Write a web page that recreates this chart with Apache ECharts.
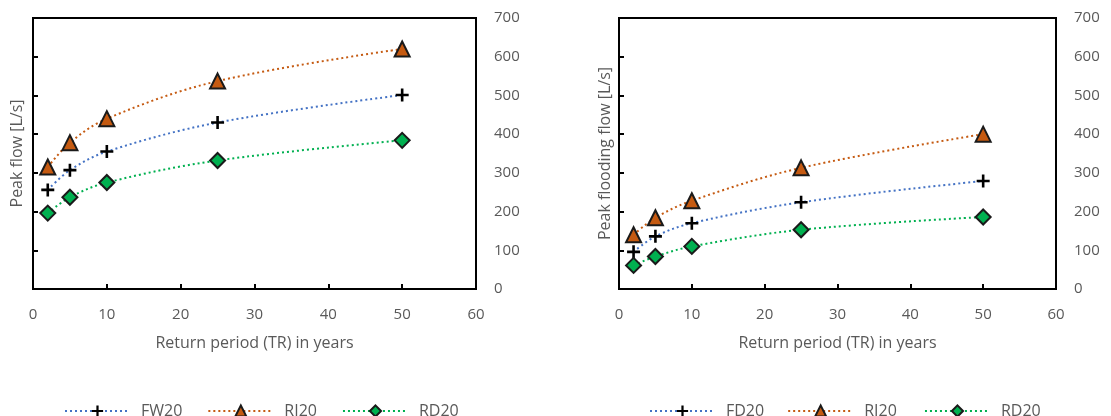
<!DOCTYPE html>
<html>
<head>
<meta charset="utf-8">
<script src="https://cdn.jsdelivr.net/npm/echarts@6/dist/echarts.min.js"></script>
<style>
html,body{margin:0;padding:0;background:#fff;}
#c{width:1111px;height:416px;}
</style>
</head>
<body>
<div id="c"></div>
<script>
const returnPeriods = [2, 5, 10, 25, 50];
const leftFW20 = [256, 307, 355, 430, 501];
const leftRI20 = [315, 378, 440, 537, 620];
const leftRD20 = [196, 237, 275, 332, 384];
const rightFD20 = [96, 136, 170, 224, 279];
const rightRI20 = [140, 184, 228, 313, 400];
const rightRD20 = [61, 84, 110, 153, 186];
const xTickLabels = [0, 10, 20, 30, 40, 50, 60];
const yTickLabels = [0, 100, 200, 300, 400, 500, 600, 700];
const xTitle = 'Return period (TR) in years';
const leftYTitle = 'Peak flow [L/s]';
const rightYTitle = 'Peak flooding flow [L/s]';

const FONT = 'Open Sans';
const TXT = '#595959';
const BLUE = '#4472C4', ORANGE = '#C55A11', GREEN = '#00B050';
const PLUS = 'path://M4,0h2v4h4v2h-4v4h-2v-4h-4v-2h4z';

const xMin = xTickLabels[0], xMax = xTickLabels[xTickLabels.length - 1];
const xInt = xTickLabels[1] - xTickLabels[0];
const yMin = yTickLabels[0], yMax = yTickLabels[yTickLabels.length - 1];
const yInt = yTickLabels[1] - yTickLabels[0];

function pts(arr) { return returnPeriods.map((x, i) => [x, arr[i]]); }

function xAxis(gi) {
  return {
    type: 'value', gridIndex: gi, min: xMin, max: xMax, interval: xInt,
    name: xTitle, nameLocation: 'middle', nameGap: 46,
    nameTextStyle: { fontFamily: FONT, fontSize: 16, color: TXT },
    axisLine: { show: false },
    axisTick: { show: true, inside: true, length: 5, lineStyle: { color: '#000', width: 2 } },
    splitLine: { show: false },
    axisLabel: { fontFamily: FONT, fontSize: 15, color: TXT, margin: 18 }
  };
}
function yLeft(gi, title, gap) {
  return {
    type: 'value', gridIndex: gi, min: yMin, max: yMax, interval: yInt, position: 'left',
    name: title, nameLocation: 'middle', nameGap: gap,
    nameTextStyle: { fontFamily: FONT, fontSize: 16, color: TXT },
    axisLine: { show: false },
    axisTick: { show: true, inside: true, length: 5, lineStyle: { color: '#000', width: 2 } },
    splitLine: { show: false },
    axisLabel: { show: false }
  };
}
function yRight(gi) {
  return {
    type: 'value', gridIndex: gi, min: yMin, max: yMax, interval: yInt, position: 'right',
    axisLine: { show: false }, axisTick: { show: false }, splitLine: { show: false },
    axisLabel: { fontFamily: FONT, fontSize: 15, color: TXT, margin: 18 }
  };
}
function ser(name, data, gi, kind) {
  const s = {
    name: name, type: 'line', xAxisIndex: gi, yAxisIndex: gi * 2,
    data: pts(data), smooth: 0.35, z: 3,
    lineStyle: { width: 2, type: [2, 3], cap: 'butt' },
    emphasis: { disabled: true }
  };
  if (kind === 'plus') {
    s.symbol = PLUS; s.symbolSize = 13;
    s.lineStyle.color = BLUE;
    s.itemStyle = { color: '#000', borderWidth: 0 };
  } else if (kind === 'tri') {
    s.symbol = 'triangle'; s.symbolSize = 15;
    s.lineStyle.color = ORANGE;
    s.itemStyle = { color: ORANGE, borderColor: '#1a1a1a', borderWidth: 2 };
  } else {
    s.symbol = 'diamond'; s.symbolSize = 15;
    s.lineStyle.color = GREEN;
    s.itemStyle = { color: GREEN, borderColor: '#1a1a1a', borderWidth: 2 };
  }
  return s;
}
function legend(names, leftX, gap) {
  return {
    data: names, top: 398, left: leftX, width: 500,
    itemWidth: 65, itemHeight: 14, itemGap: gap,
    textStyle: { fontFamily: FONT, fontSize: 16, color: TXT, padding: [0, 0, 0, 6] },
    selectedMode: false
  };
}

const chart = echarts.init(document.getElementById('c'), null, { renderer: 'canvas' });
chart.setOption({
  backgroundColor: '#fff',
  animation: false,
  grid: [
    { left: 33, top: 18, width: 443, height: 271, show: true, borderColor: '#000', borderWidth: 2, backgroundColor: 'transparent' },
    { left: 619, top: 18, width: 437, height: 271, show: true, borderColor: '#000', borderWidth: 2, backgroundColor: 'transparent' }
  ],
  xAxis: [xAxis(0), xAxis(1)],
  yAxis: [yLeft(0, leftYTitle, 8), yRight(0), yLeft(1, rightYTitle, 6), yRight(1)],
  legend: [
    legend(['FW20', 'RI20', 'RD20'], 59, 25),
    legend(['FD20', 'RI20 ', 'RD20 '], 644, 23)
  ],
  series: [
    ser('FW20', leftFW20, 0, 'plus'),
    ser('RI20', leftRI20, 0, 'tri'),
    ser('RD20', leftRD20, 0, 'dia'),
    ser('FD20', rightFD20, 1, 'plus'),
    ser('RI20 ', rightRI20, 1, 'tri'),
    ser('RD20 ', rightRD20, 1, 'dia')
  ]
});
</script>
</body>
</html>
